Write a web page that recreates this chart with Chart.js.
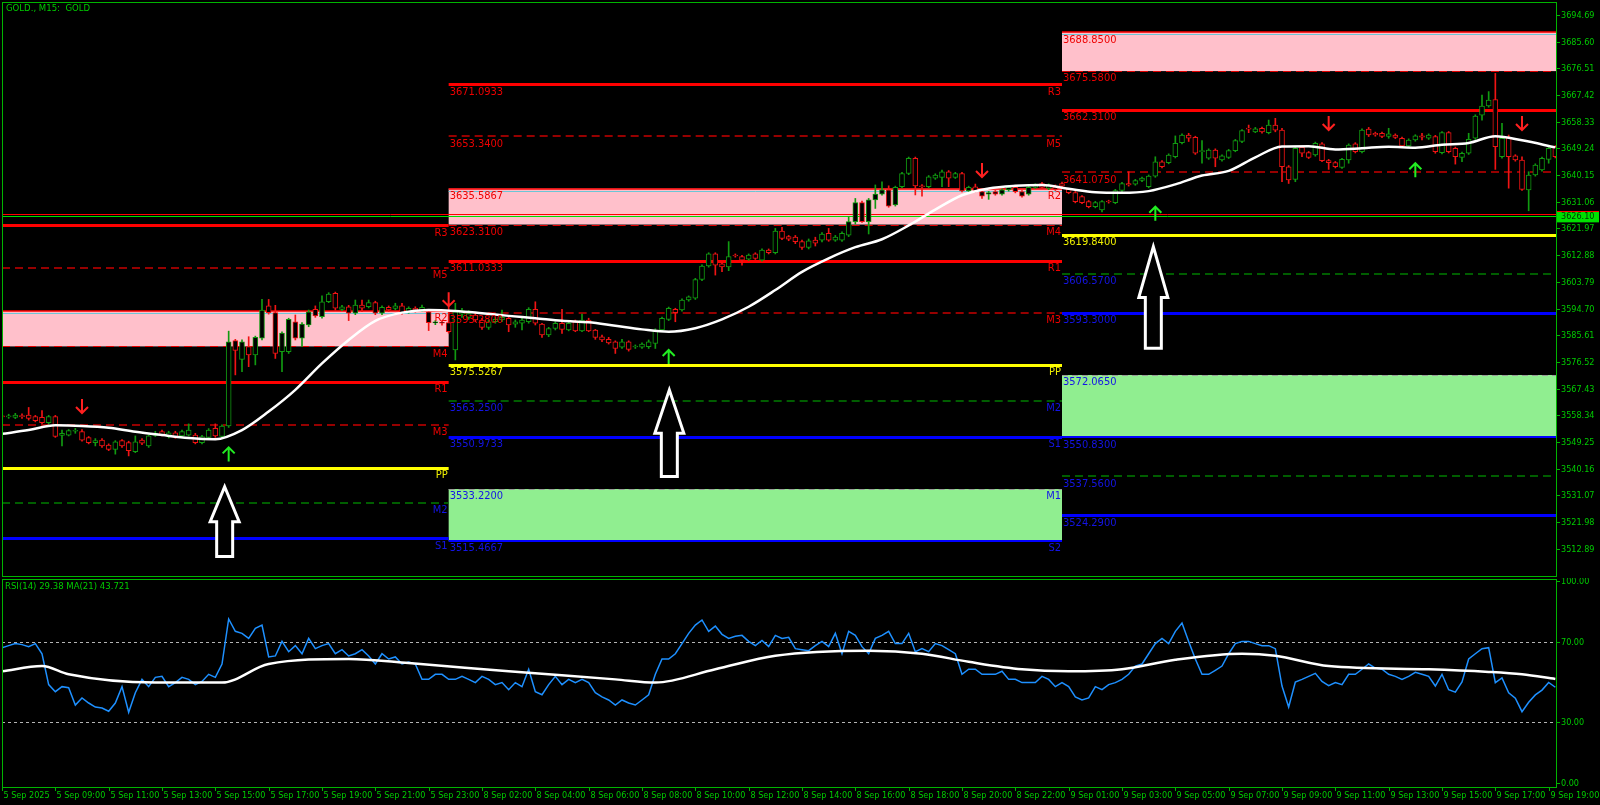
<!DOCTYPE html>
<html>
<head>
<meta charset="utf-8">
<title>GOLD., M15</title>
<script src="https://cdn.jsdelivr.net/npm/chart.js@4.4.1/dist/chart.umd.min.js"></script>
<style>
  html, body { margin: 0; padding: 0; background: #000; }
  #wrap { position: relative; width: 1600px; height: 805px; overflow: hidden; background: #000; }
  canvas { position: absolute; left: 0; }
  #priceChart { top: 0; }
  #rsiChart { top: 578px; }
</style>
</head>
<body>
<div id="wrap">
  <canvas id="priceChart" width="1600" height="578"></canvas>
  <canvas id="rsiChart" width="1600" height="227"></canvas>
</div>
<script>
// ---- M15 candles, bar 0 = 5 Sep 07:00 ----
const barOpen = [
  3558.1,3557.8,3557.6,3558.2,3558.4,3557.9,3557.6,3555.8,3557.9,3551.5,
  3551.6,3552.9,3552.8,3550.7,3549.0,3549.9,3548.2,3546.7,3549.7,3549.0,
  3545.9,3549.9,3547.9,3551.5,3552.8,3551.1,3552.4,3551.3,3551.6,3551.6,
  3549.0,3550.8,3553.9,3551.1,3554.7,3583.8,3577.4,3581.7,3578.9,3584.6,
  3595.6,3593.3,3580.0,3580.0,3590.2,3584.6,3589.1,3594.4,3591.9,3597.0,
  3599.9,3594.4,3595.3,3593.1,3595.9,3595.3,3596.7,3593.1,3595.1,3594.7,
  3595.6,3593.6,3594.8,3594.2,3593.6,3589.8,3590.0,3589.9,3580.6,3592.8,
  3591.7,3592.5,3590.8,3588.3,3590.2,3590.8,3591.4,3589.4,3589.7,3590.2,
  3594.4,3589.4,3585.7,3587.9,3589.7,3587.4,3590.2,3587.1,3590.8,3587.4,
  3585.1,3584.2,3583.4,3581.5,3583.4,3581.6,3581.5,3581.7,3582.8,3587.4,
  3591.0,3594.4,3594.2,3597.6,3598.2,3604.6,3609.2,3613.3,3609.9,3608.9,
  3612.9,3612.4,3611.5,3613.3,3611.2,3614.6,3613.7,3621.1,3619.2,3619.0,
  3617.5,3615.5,3618.0,3618.0,3620.3,3618.0,3618.0,3619.7,3624.3,3630.8,
  3624.3,3631.7,3633.7,3635.1,3630.0,3636.2,3640.7,3645.9,3636.5,3636.2,
  3639.1,3639.4,3641.3,3639.4,3640.7,3634.8,3636.2,3634.5,3633.7,3634.5,
  3633.7,3635.1,3636.0,3634.5,3633.7,3636.0,3637.3,3635.6,3636.2,3637.3,
  3635.3,3634.2,3632.8,3631.1,3629.4,3628.3,3631.2,3630.8,3634.9,3637.3,
  3637.1,3638.3,3636.2,3639.8,3644.7,3644.4,3646.4,3651.2,3653.8,3653.0,
  3648.1,3645.9,3648.7,3645.3,3646.2,3648.5,3651.6,3656.1,3654.9,3656.1,
  3654.6,3657.2,3655.5,3643.0,3638.7,3649.6,3647.8,3647.0,3650.8,3645.1,
  3644.4,3642.8,3645.3,3650.8,3648.1,3655.8,3654.4,3654.4,3653.3,3653.8,
  3652.7,3650.1,3652.1,3653.5,3652.7,3653.3,3647.8,3654.6,3649.3,3646.2,
  3647.6,3652.7,3660.6,3663.7,3665.9,3646.4,3653.0,3646.7,3645.3,3635.1,
  3640.2,3641.9,3645.5,3649.8
];
const barClose = [
  3557.8,3558.1,3558.4,3557.9,3557.3,3556.5,3555.8,3557.9,3551.1,3552.2,
  3553.1,3553.2,3549.9,3549.0,3549.7,3547.9,3546.7,3549.3,3547.9,3546.3,
  3549.3,3548.8,3551.3,3552.2,3551.6,3552.4,3550.8,3552.8,3553.3,3549.0,
  3551.1,3553.3,3551.3,3554.7,3583.4,3580.4,3583.4,3578.9,3584.9,3594.2,
  3593.3,3579.4,3586.3,3591.0,3584.6,3589.4,3593.6,3592.2,3597.0,3599.6,
  3594.8,3595.3,3593.1,3595.9,3594.8,3596.7,3593.1,3595.1,3594.2,3595.6,
  3593.3,3594.8,3594.2,3595.1,3589.9,3590.0,3589.7,3586.8,3593.6,3594.0,
  3593.0,3590.8,3588.3,3590.2,3591.0,3591.7,3589.1,3590.2,3590.8,3594.4,
  3589.7,3585.7,3587.9,3589.7,3587.6,3589.7,3587.1,3590.8,3587.1,3584.9,
  3584.0,3583.0,3581.1,3583.4,3580.8,3581.8,3582.6,3583.4,3587.4,3591.4,
  3594.8,3593.3,3597.6,3598.7,3604.6,3609.2,3613.3,3609.5,3608.9,3612.4,
  3612.6,3611.2,3612.9,3611.8,3614.6,3613.7,3621.1,3618.6,3618.3,3617.5,
  3615.5,3617.8,3617.0,3620.1,3618.0,3619.0,3620.3,3624.3,3630.8,3624.3,
  3631.7,3633.7,3635.1,3629.6,3636.0,3640.7,3645.9,3636.5,3636.2,3639.6,
  3640.2,3641.3,3639.1,3640.7,3634.8,3636.0,3634.8,3633.0,3634.2,3633.7,
  3635.1,3636.0,3634.5,3633.0,3636.0,3636.8,3636.0,3636.8,3635.3,3636.4,
  3634.2,3631.1,3630.8,3629.4,3630.8,3631.1,3631.0,3634.9,3637.3,3636.8,
  3638.3,3639.1,3639.8,3644.7,3643.0,3647.0,3651.0,3653.8,3652.7,3647.6,
  3648.5,3648.7,3645.9,3646.7,3648.5,3651.9,3655.3,3655.8,3655.9,3654.9,
  3657.2,3655.5,3643.0,3638.5,3649.3,3647.6,3646.2,3651.0,3645.1,3644.4,
  3643.0,3645.5,3650.4,3648.1,3655.5,3653.8,3653.8,3653.3,3654.2,3653.0,
  3650.1,3652.1,3653.5,3653.1,3653.8,3648.1,3654.6,3648.1,3646.4,3647.6,
  3652.3,3660.3,3663.7,3665.7,3649.8,3652.7,3646.4,3645.3,3635.3,3640.2,
  3643.6,3645.9,3649.3,3646.4
];
const barHigh = [
  3558.5,3558.7,3559.0,3558.8,3561.0,3558.3,3559.9,3558.3,3558.3,3553.3,
  3553.5,3553.9,3553.5,3551.1,3550.4,3550.4,3548.6,3549.7,3550.1,3549.5,
  3551.3,3550.4,3551.6,3552.9,3553.3,3552.9,3552.9,3553.3,3555.4,3552.2,
  3551.5,3553.8,3555.4,3555.1,3587.0,3584.2,3584.0,3585.1,3585.3,3597.8,
  3597.8,3595.8,3586.8,3591.4,3592.5,3589.9,3594.2,3595.6,3599.0,3600.1,
  3600.3,3595.8,3595.8,3597.6,3597.6,3597.6,3597.2,3595.6,3595.6,3596.5,
  3596.5,3595.3,3595.3,3595.9,3594.2,3590.6,3590.6,3596.5,3596.5,3594.8,
  3594.0,3593.3,3591.4,3590.8,3591.7,3594.2,3591.7,3590.8,3591.4,3595.0,
  3597.0,3589.7,3588.3,3590.2,3594.4,3590.2,3590.8,3592.8,3591.4,3587.6,
  3585.7,3584.9,3583.7,3584.2,3583.7,3582.3,3583.0,3584.0,3587.8,3591.8,
  3595.2,3594.8,3598.0,3599.0,3605.0,3609.6,3613.7,3613.7,3610.3,3617.5,
  3613.3,3612.8,3613.3,3613.7,3615.0,3615.0,3622.0,3622.4,3619.6,3619.6,
  3618.0,3618.4,3619.0,3620.6,3622.0,3619.6,3620.8,3626.0,3632.2,3631.3,
  3632.2,3636.8,3637.9,3636.5,3636.4,3641.1,3646.3,3646.3,3636.9,3640.0,
  3640.6,3641.9,3641.7,3641.1,3641.1,3636.4,3637.1,3634.9,3634.6,3634.9,
  3635.5,3636.4,3636.4,3634.9,3636.4,3637.2,3637.7,3637.2,3636.8,3637.8,
  3635.7,3634.6,3633.2,3631.5,3631.2,3631.5,3631.6,3635.3,3637.7,3641.3,
  3638.7,3639.5,3640.2,3646.4,3645.1,3647.4,3653.5,3654.2,3654.4,3653.4,
  3651.9,3649.1,3649.1,3647.1,3648.9,3652.3,3655.7,3657.2,3656.4,3656.5,
  3658.9,3659.5,3656.1,3643.4,3649.7,3650.0,3648.2,3651.4,3651.2,3645.5,
  3644.8,3645.9,3650.8,3651.2,3655.9,3656.4,3654.8,3654.8,3656.1,3654.2,
  3653.1,3652.5,3653.9,3654.4,3654.2,3653.7,3655.0,3655.0,3649.7,3648.0,
  3654.4,3660.7,3667.4,3668.6,3674.8,3657.8,3653.8,3647.1,3646.4,3641.3,
  3644.0,3646.3,3649.8,3650.2
];
const barLow = [
  3557.2,3557.3,3557.2,3557.3,3556.7,3556.1,3555.5,3555.4,3550.8,3547.9,
  3551.3,3552.2,3549.5,3548.6,3547.9,3547.4,3546.3,3545.1,3547.4,3544.5,
  3545.6,3548.3,3547.4,3551.1,3551.3,3550.6,3550.5,3550.8,3551.3,3548.6,
  3548.6,3550.4,3550.8,3550.6,3554.2,3572.1,3573.2,3574.9,3575.5,3584.0,
  3592.8,3577.7,3573.2,3579.4,3584.0,3581.7,3588.5,3591.7,3591.4,3596.7,
  3594.2,3594.0,3590.6,3592.6,3593.6,3594.9,3592.6,3592.6,3593.7,3594.2,
  3592.8,3593.1,3593.5,3593.6,3587.2,3589.2,3589.0,3586.3,3577.2,3591.7,
  3591.0,3590.2,3587.6,3587.6,3589.7,3590.2,3586.8,3588.3,3587.4,3589.7,
  3589.1,3584.9,3585.1,3587.4,3586.2,3587.1,3586.8,3586.8,3586.8,3584.2,
  3583.4,3582.6,3579.4,3581.1,3580.2,3581.1,3581.1,3581.1,3581.1,3587.0,
  3590.6,3590.2,3593.8,3597.2,3597.8,3604.2,3608.8,3606.1,3607.3,3607.6,
  3612.2,3609.5,3611.1,3611.4,3610.8,3613.3,3613.3,3618.2,3617.8,3616.8,
  3614.8,3615.0,3616.0,3617.4,3617.6,3617.6,3617.6,3619.2,3623.5,3624.0,
  3620.1,3628.8,3633.3,3629.2,3629.6,3635.8,3640.3,3633.4,3633.0,3635.8,
  3638.7,3636.2,3636.2,3639.0,3634.4,3634.4,3634.4,3632.2,3631.9,3633.3,
  3633.3,3634.7,3634.1,3632.6,3633.3,3635.6,3635.6,3635.2,3634.9,3636.0,
  3633.8,3630.7,3630.4,3629.0,3629.0,3627.6,3630.6,3630.4,3634.5,3636.4,
  3636.7,3637.9,3635.8,3639.4,3642.6,3644.0,3646.0,3650.8,3651.6,3647.2,
  3644.2,3645.5,3643.0,3644.9,3645.8,3648.1,3651.2,3654.6,3654.6,3654.4,
  3654.2,3654.9,3637.9,3637.3,3637.9,3646.4,3645.8,3646.6,3644.7,3642.1,
  3642.6,3642.4,3644.2,3647.7,3647.7,3653.3,3653.4,3652.9,3652.7,3652.6,
  3649.7,3649.7,3651.7,3652.1,3652.3,3647.6,3647.4,3647.7,3643.9,3644.7,
  3647.2,3652.3,3658.9,3663.3,3642.1,3645.9,3635.7,3644.9,3634.9,3628.0,
  3639.8,3641.5,3644.2,3646.0
];

// white moving average on price
const maBar = [0,4,8,12,16,20,24,28,32,36,40,44,48,52,56,60,64,68,72,76,80,84,88,92,96,100,
  104,108,112,116,120,124,128,132,136,140,144,148,152,156,160,164,168,172,176,180,184,188,192,
  196,200,204,208,212,216,220,224,228,233];
const maValue = [3552.0,3553.3,3554.9,3554.7,3554.1,3552.7,3551.6,3550.6,3550.2,3553.3,3559.6,
  3567.0,3576.0,3584.0,3590.5,3593.3,3594.2,3593.9,3593.1,3592.2,3591.4,3590.5,3590.0,3588.8,
  3587.6,3586.8,3588.0,3591.0,3595.3,3601.0,3607.2,3611.8,3615.6,3618.3,3623.0,3628.4,3633.3,
  3635.6,3636.5,3636.8,3635.5,3634.3,3634.1,3634.7,3637.0,3640.0,3641.6,3646.2,3649.9,3650.0,
  3648.9,3649.3,3649.8,3649.5,3650.5,3651.1,3653.4,3652.0,3649.6];

// daily pivot levels (5 Sep, 8 Sep, 9 Sep)
const levelNames = ['R3','M5','R2','M4','R1','M3','PP','M2','S1','M1','S2','M0','S3'];
const levels5Sep = [3623.10,3608.48,3593.85,3581.80,3569.75,3555.13,3540.50,3528.45,3516.40,3501.78,3487.15,null,null];
const levels8Sep = [3671.0933,3653.3400,3635.5867,3623.3100,3611.0333,3593.2800,3575.5267,3563.2500,3550.9733,3533.2200,3515.4667,null,null];
const levels9Sep = [null,null,3688.8500,3675.5800,3662.3100,3641.0750,3619.8400,3606.5700,3593.3000,3572.0650,3550.8300,3537.5600,3524.2900];
const dayLevels = [levels5Sep, levels8Sep, levels9Sep];
const dayFromBar = [-10, 67, 159];
const dayToBar = [67, 159, 240];

// signal arrows
const sellBar = [12, 67, 147, 199, 228];
const sellPrice = [3559.1, 3595.5, 3639.5, 3655.5, 3655.5];
const buyBar = [34, 100, 173, 212];
const buyPrice = [3547.4, 3580.6, 3629.4, 3644.2];
const bigArrowBar = [33.4, 100.1, 172.7];
const bigArrowTip = [3534.0, 3567.0, 3615.8];
const bigArrowTail = [3510.2, 3537.5, 3581.2];

const bidPrice = 3626.10;
const askPrice = 3626.76;

const priceTicks = [3694.69,3685.60,3676.51,3667.42,3658.33,3649.24,3640.15,3631.06,3621.97,
  3612.88,3603.79,3594.70,3585.61,3576.52,3567.43,3558.34,3549.25,3540.16,3531.07,3521.98,3512.89];

// RSI(14), one value per bar, and its MA(21)
const rsiValue = [
  67.0,68.0,69.0,68.5,67.5,69.0,64.0,48.7,45.2,47.7,
  47.2,38.6,42.1,39.6,37.6,37.1,35.5,39.6,47.7,35.0,
  44.7,51.3,47.7,52.3,52.8,47.7,49.7,52.3,51.3,48.7,
  50.3,53.8,52.3,58.9,81.2,75.1,74.1,71.6,76.6,78.2,
  62.4,62.9,70.1,65.0,68.0,64.0,71.6,66.5,68.0,69.0,
  64.0,66.0,62.9,64.0,66.0,62.9,58.9,64.0,61.4,62.4,
  58.9,59.9,58.9,51.3,51.3,53.8,53.8,51.3,51.3,52.8,
  51.3,49.7,52.8,51.3,48.7,49.7,46.2,49.7,47.7,56.3,
  45.2,43.7,48.7,52.8,48.7,51.3,49.7,51.3,49.7,44.7,
  42.6,41.1,38.6,41.1,39.6,38.6,41.1,43.7,53.8,61.4,
  61.4,64.0,69.0,74.1,78.2,80.7,75.1,77.7,73.6,71.6,
  72.6,73.1,70.1,68.0,70.6,67.5,73.1,71.6,72.1,66.5,
  66.0,65.5,68.0,70.1,67.5,74.1,64.0,75.1,73.1,67.5,
  64.0,71.6,73.1,75.1,69.0,69.0,74.1,65.0,66.5,65.0,
  69.0,68.0,66.0,64.0,53.8,56.3,56.3,53.8,53.8,53.8,
  55.3,51.3,51.3,49.7,49.7,49.7,52.8,51.3,47.7,49.7,
  47.7,42.6,41.1,42.1,47.7,46.2,48.7,49.7,51.3,53.8,
  57.9,58.9,64.0,69.0,71.6,69.0,75.1,79.2,70.1,61.4,
  53.8,53.8,55.8,57.9,64.0,69.0,70.1,70.1,69.0,68.0,
  68.0,66.5,48.0,37.6,50.0,51.3,52.8,54.3,50.3,48.2,
  49.7,48.7,53.8,53.8,56.3,58.9,56.9,56.3,53.8,52.8,
  51.3,52.8,54.8,53.8,52.8,48.0,53.8,46.2,45.0,50.0,
  61.4,64.0,66.5,67.0,49.7,52.0,44.7,42.0,35.3,40.0,
  43.6,46.0,49.8,47.4
];
const rsiMaBar = [0,6,10,23,33,40,52,61,76,92,98,107,116,130,138,145,153,160,168,176,186,191,199,214,223,228,233];
const rsiMaValue = [55.3,57.9,53.8,49.7,49.7,58.9,61.4,59.4,55.3,51.3,49.7,56.3,63.0,65.5,64.0,60.0,
  56.3,55.3,56.3,61.0,64.0,63.0,57.9,56.3,55.0,53.8,51.5];
const rsiTicks = [100, 70, 30, 0];
const rsiLevels = [70, 30];

// time axis
const timeTickBar = [0,8,16,24,32,40,48,56,64,72,80,88,96,104,112,120,128,136,144,152,160,168,176,184,192,200,208,216,224,232];
const timeTickLabels = ['5 Sep 2025','5 Sep 09:00','5 Sep 11:00','5 Sep 13:00','5 Sep 15:00','5 Sep 17:00',
  '5 Sep 19:00','5 Sep 21:00','5 Sep 23:00','8 Sep 02:00','8 Sep 04:00','8 Sep 06:00','8 Sep 08:00',
  '8 Sep 10:00','8 Sep 12:00','8 Sep 14:00','8 Sep 16:00','8 Sep 18:00','8 Sep 20:00','8 Sep 22:00',
  '9 Sep 01:00','9 Sep 03:00','9 Sep 05:00','9 Sep 07:00','9 Sep 09:00','9 Sep 11:00','9 Sep 13:00',
  '9 Sep 15:00','9 Sep 17:00','9 Sep 19:00'];

const FONT = '"Liberation Sans Narrow", "DejaVu Sans Condensed", "Liberation Sans", sans-serif';
const AXIS_GREEN = '#00b400';
const TEXT_GREEN = '#00cc00';
const BULL = '#119a11';
const BEAR = '#f01414';

Chart.defaults.font.family = FONT;

function candleColor(i) {
  return barClose[i] >= barOpen[i] ? BULL : BEAR;
}

function hLine(ctx, x0, x1, y, color, width, dash) {
  ctx.save();
  ctx.strokeStyle = color;
  ctx.lineWidth = width;
  ctx.setLineDash(dash || []);
  const yy = Math.round(width) % 2 === 1 ? Math.round(y) + 0.5 : Math.round(y);
  ctx.beginPath();
  ctx.moveTo(x0, yy);
  ctx.lineTo(x1, yy);
  ctx.stroke();
  ctx.restore();
}

function levelStyle(name) {
  switch (name) {
    case 'R3': case 'R1': return { color: '#ff0000', width: 3 };
    case 'R2': return { color: '#ff0000', width: 1.5, edge: '#6cc6d6' };
    case 'M5': case 'M3': return { color: '#c80000', width: 1.5, dash: [8, 5] };
    case 'M4': return { color: '#e00000', width: 1, dash: [8, 5] };
    case 'PP': return { color: '#ffff00', width: 3 };
    case 'M2': case 'M0': return { color: '#007c00', width: 1.5, dash: [8, 5] };
    case 'S1': case 'S3': return { color: '#0000ff', width: 3 };
    case 'M1': return { color: '#9a9a9a', width: 1, dash: [6, 4] };
    case 'S2': return { color: '#0000ff', width: 2 };
  }
  return { color: '#fff', width: 1 };
}

function labelColor(k) {
  if (k < 6) return '#ee0000';
  if (k === 6) return '#eeee00';
  return '#1414e6';
}

const pricePanelDecor = {
  id: 'pricePanelDecor',
  beforeDatasetsDraw(chart) {
    const { ctx, chartArea: a, scales: { x, y } } = chart;
    ctx.save();
    ctx.beginPath();
    ctx.rect(a.left, a.top, a.right - a.left, a.bottom - a.top);
    ctx.clip();
    const iR2 = levelNames.indexOf('R2'), iM4 = levelNames.indexOf('M4');
    const iM1 = levelNames.indexOf('M1'), iS2 = levelNames.indexOf('S2');
    // zones
    dayLevels.forEach((lv, d) => {
      const x0 = Math.max(a.left, x.getPixelForValue(dayFromBar[d]));
      const x1 = Math.min(a.right, x.getPixelForValue(dayToBar[d]));
      if (lv[iR2] != null && lv[iM4] != null) {
        const t = y.getPixelForValue(lv[iR2]), b = y.getPixelForValue(lv[iM4]);
        ctx.fillStyle = '#ffc0cb';
        ctx.fillRect(x0, t, x1 - x0, b - t);
      }
      if (lv[iM1] != null && lv[iS2] != null) {
        const t = y.getPixelForValue(lv[iM1]), b = y.getPixelForValue(lv[iS2]);
        ctx.fillStyle = '#90ee90';
        ctx.fillRect(x0, t, x1 - x0, b - t);
      }
    });
    // level lines
    dayLevels.forEach((lv, d) => {
      const x0 = Math.max(a.left, x.getPixelForValue(dayFromBar[d]));
      const x1 = Math.min(a.right, x.getPixelForValue(dayToBar[d]));
      levelNames.forEach((name, k) => {
        const v = lv[k];
        if (v == null) return;
        const py = y.getPixelForValue(v);
        const st = levelStyle(name);
        hLine(ctx, x0, x1, py, st.color, st.width, st.dash);
        if (st.edge) hLine(ctx, x0, x1, py + 2, st.edge, 1);
      });
    });
    // ask / bid lines
    hLine(ctx, a.left, a.right, y.getPixelForValue(askPrice), '#ff0000', 1);
    hLine(ctx, a.left, a.right, y.getPixelForValue(bidPrice), '#00dd00', 1);
    ctx.restore();
  },
  afterDatasetsDraw(chart) {
    const { ctx, chartArea: a, scales: { x, y } } = chart;
    ctx.save();
    ctx.beginPath();
    ctx.rect(a.left, a.top, a.right - a.left, a.bottom - a.top);
    ctx.clip();

    // level labels
    ctx.font = '11px ' + FONT;
    ctx.textBaseline = 'top';
    dayLevels.forEach((lv, d) => {
      const x0 = x.getPixelForValue(dayFromBar[d]);
      const x1 = x.getPixelForValue(dayToBar[d]);
      levelNames.forEach((name, k) => {
        const v = lv[k];
        if (v == null) return;
        const py = y.getPixelForValue(v);
        if (py < a.top || py > a.bottom - 6) return;
        ctx.fillStyle = labelColor(k);
        if (dayFromBar[d] >= x.min) {
          ctx.textAlign = 'left';
          ctx.fillText(v.toFixed(4), x0 + 1, py + 2);
        }
        if (dayToBar[d] <= x.max) {
          ctx.textAlign = 'right';
          ctx.fillText(name, x1 - 1, py + 2);
        }
      });
    });

    // small signal arrows
    ctx.lineWidth = 2;
    ctx.lineCap = 'butt';
    const arrow = (px, py, dir, color) => {
      ctx.strokeStyle = color;
      ctx.beginPath();
      ctx.moveTo(px, py - dir * 14);
      ctx.lineTo(px, py);
      ctx.moveTo(px - 6, py - dir * 6);
      ctx.lineTo(px, py);
      ctx.lineTo(px + 6, py - dir * 6);
      ctx.stroke();
    };
    sellBar.forEach((b, i) => arrow(x.getPixelForValue(b), y.getPixelForValue(sellPrice[i]), 1, '#ff2020'));
    buyBar.forEach((b, i) => arrow(x.getPixelForValue(b), y.getPixelForValue(buyPrice[i]), -1, '#22ee22'));

    // big hollow up arrows
    bigArrowBar.forEach((b, i) => {
      const px = x.getPixelForValue(b);
      const tip = y.getPixelForValue(bigArrowTip[i]);
      const tail = y.getPixelForValue(bigArrowTail[i]);
      const head = tip + (tail - tip) * 0.5;
      const hw = 14.5, sw = 8;
      ctx.beginPath();
      ctx.moveTo(px, tip);
      ctx.lineTo(px + hw, head);
      ctx.lineTo(px + sw, head);
      ctx.lineTo(px + sw, tail);
      ctx.lineTo(px - sw, tail);
      ctx.lineTo(px - sw, head);
      ctx.lineTo(px - hw, head);
      ctx.closePath();
      ctx.fillStyle = '#000';
      ctx.fill();
      ctx.strokeStyle = '#ffffff';
      ctx.lineWidth = 3;
      ctx.lineJoin = 'miter';
      ctx.stroke();
    });
    ctx.restore();

    // frame + price axis
    ctx.save();
    ctx.strokeStyle = AXIS_GREEN;
    ctx.lineWidth = 1;
    ctx.strokeRect(a.left + 0.5, a.top + 0.5, a.right - a.left, a.bottom - a.top);
    ctx.font = '9px ' + FONT;
    ctx.fillStyle = TEXT_GREEN;
    ctx.textAlign = 'left';
    ctx.textBaseline = 'middle';
    priceTicks.forEach(v => {
      const py = Math.round(y.getPixelForValue(v)) + 0.5;
      ctx.beginPath();
      ctx.moveTo(a.right, py);
      ctx.lineTo(a.right + 4, py);
      ctx.stroke();
      ctx.fillText(v.toFixed(2), a.right + 5, py);
    });
    // current price box
    const by = y.getPixelForValue(bidPrice);
    ctx.fillStyle = '#00e000';
    ctx.fillRect(a.right + 1, by - 5, 42, 11);
    hLine(ctx, a.right + 1, a.right + 43, by - 5, '#ff0000', 1);
    ctx.fillStyle = '#003300';
    ctx.fillText(bidPrice.toFixed(2), a.right + 5, by + 0.5);
    // title
    ctx.font = '9.5px ' + FONT;
    ctx.fillStyle = TEXT_GREEN;
    ctx.textBaseline = 'top';
    ctx.fillText('GOLD., M15:  GOLD', 6, 4);
    ctx.restore();
  }
};

const rsiPanelDecor = {
  id: 'rsiPanelDecor',
  beforeDatasetsDraw(chart) {
    const { ctx, chartArea: a, scales: { y } } = chart;
    rsiLevels.forEach(v => hLine(ctx, a.left, a.right, y.getPixelForValue(v), '#b4b4b4', 1, [3, 3]));
  },
  afterDatasetsDraw(chart) {
    const { ctx, chartArea: a, scales: { x, y } } = chart;
    ctx.save();
    ctx.strokeStyle = AXIS_GREEN;
    ctx.lineWidth = 1;
    ctx.strokeRect(a.left + 0.5, a.top + 0.5, a.right - a.left, a.bottom - a.top);
    ctx.font = '9px ' + FONT;
    ctx.fillStyle = TEXT_GREEN;
    ctx.textAlign = 'left';
    ctx.textBaseline = 'middle';
    rsiTicks.forEach(v => {
      const py = Math.round(y.getPixelForValue(v)) + 0.5;
      ctx.beginPath();
      ctx.moveTo(a.right, py);
      ctx.lineTo(a.right + 4, py);
      ctx.stroke();
      ctx.fillText(v.toFixed(2), a.right + 5, py);
    });
    ctx.textBaseline = 'top';
    timeTickBar.forEach((b, i) => {
      const px = Math.round(x.getPixelForValue(b)) + 0.5;
      ctx.beginPath();
      ctx.moveTo(px, a.bottom);
      ctx.lineTo(px, a.bottom + 4);
      ctx.stroke();
      ctx.fillText(timeTickLabels[i], px + 1, a.bottom + 4);
    });
    ctx.font = '9.5px ' + FONT;
    ctx.fillText('RSI(14) 29.38 MA(21) 43.721', 5, a.top + 3);
    ctx.restore();
  }
};

const BAR_X_MAX = 233.1;

new Chart(document.getElementById('priceChart'), {
  type: 'bar',
  data: {
    datasets: [
      {
        type: 'line',
        label: 'MA',
        data: maBar.map((b, i) => ({ x: b, y: maValue[i] })),
        borderColor: '#ffffff',
        borderWidth: 2.5,
        pointRadius: 0,
        cubicInterpolationMode: 'monotone',
        order: 0
      },
      {
        label: 'Body',
        data: barOpen.map((o, i) => ({ x: i, y: [o, barClose[i]] })),
        backgroundColor: '#000000',
        borderColor: c => candleColor(c.dataIndex),
        borderWidth: 1,
        borderSkipped: false,
        barThickness: 5,
        minBarLength: 1,
        grouped: false,
        order: 1
      },
      {
        label: 'Wick',
        data: barOpen.map((o, i) => ({ x: i, y: [barLow[i], barHigh[i]] })),
        backgroundColor: c => candleColor(c.dataIndex),
        borderWidth: 0,
        barThickness: 1,
        grouped: false,
        order: 2
      }
    ]
  },
  options: {
    responsive: false,
    animation: false,
    events: [],
    layout: { padding: { left: 2, top: 2, right: 44, bottom: 2 } },
    scales: {
      x: { type: 'linear', min: 0, max: BAR_X_MAX, offset: false, display: false },
      y: { type: 'linear', min: 3503.59, max: 3699.12, display: false }
    },
    plugins: { legend: { display: false }, tooltip: { enabled: false } }
  },
  plugins: [pricePanelDecor]
});

new Chart(document.getElementById('rsiChart'), {
  type: 'line',
  data: {
    datasets: [
      {
        label: 'MA(21)',
        data: rsiMaBar.map((b, i) => ({ x: b, y: rsiMaValue[i] })),
        borderColor: '#ffffff',
        borderWidth: 2.5,
        pointRadius: 0,
        cubicInterpolationMode: 'monotone',
        order: 0
      },
      {
        label: 'RSI(14)',
        data: rsiValue.map((v, i) => ({ x: i, y: v })),
        borderColor: '#1e90ff',
        borderWidth: 1.5,
        pointRadius: 0,
        tension: 0,
        order: 1
      }
    ]
  },
  options: {
    responsive: false,
    animation: false,
    events: [],
    layout: { padding: { left: 2, top: 1, right: 44, bottom: 18 } },
    scales: {
      x: { type: 'linear', min: 0, max: BAR_X_MAX, offset: false, display: false },
      y: { type: 'linear', min: -1.98, max: 100.99, display: false }
    },
    plugins: { legend: { display: false }, tooltip: { enabled: false } }
  },
  plugins: [rsiPanelDecor]
});
</script>
</body>
</html>
